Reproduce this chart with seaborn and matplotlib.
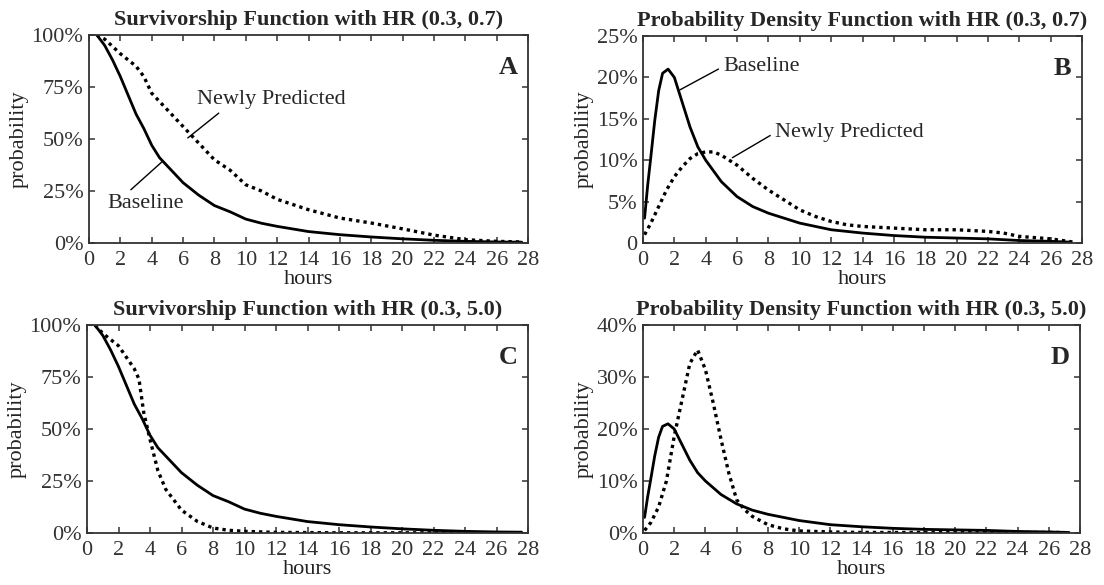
import numpy as np
import pandas as pd
import matplotlib
matplotlib.use("Agg")
import matplotlib.pyplot as plt
import seaborn as sns

# ---------------- data ----------------
# Survivorship, HR (0.3, 0.7)
surv_base_t = [0.5, 1, 1.5, 2, 2.5, 3, 3.5, 4, 4.5, 5, 6, 7, 8, 9, 10, 11, 12, 14, 16, 18, 20, 22, 24, 26, 27.6]
surv_base_p = [100, 95, 88, 80, 71, 62, 55, 47, 41, 37, 29, 23, 18, 15, 11.5, 9.5, 8, 5.5, 4, 2.9, 2, 1.3, 0.8, 0.5, 0.4]
surv_new1_t = [0.5, 1, 2, 3, 3.5, 4, 5, 6, 7, 8, 9, 10, 11, 12, 14, 16, 18, 20, 22, 24, 26, 27.6]
surv_new1_p = [100, 98, 91, 85, 80, 72, 64, 56, 48, 40, 35, 28, 25, 21, 16, 12, 9.6, 6.8, 3.8, 1.6, 0.8, 0.5]
# Survivorship, HR (0.3, 5.0)
surv_new2_t = [0.5, 1, 2, 3, 3.3, 3.6, 4, 4.5, 5, 6, 7, 8, 9, 10, 12, 14, 16, 20, 24, 27.6]
surv_new2_p = [100, 96, 90, 79, 74, 58, 45, 30, 21, 11, 5.6, 2.4, 1.3, 0.8, 0.3, 0.2, 0.1, 0.1, 0.1, 0.1]
# Density, baseline
pdf_base_t = [0.1, 0.3, 0.5, 0.75, 1, 1.25, 1.6, 2, 2.5, 3, 3.5, 4, 5, 6, 7, 8, 9, 10, 12, 14, 16, 18, 20, 22, 24, 26, 27.3]
pdf_base_p = [3, 7, 10.4, 14.8, 18.4, 20.5, 21, 20, 17, 14, 11.6, 10, 7.4, 5.6, 4.4, 3.6, 3, 2.4, 1.6, 1.2, 0.9, 0.7, 0.6, 0.5, 0.3, 0.2, 0.1]
# Density, HR (0.3, 0.7)
pdf_new1_t = [0.1, 0.5, 1, 1.5, 2, 2.5, 3, 3.5, 4, 4.5, 5, 6, 7, 8, 9, 10, 11, 12, 13, 14, 16, 18, 20, 22, 23, 24, 26, 27.5]
pdf_new1_p = [1.0, 2.4, 4.4, 6.4, 8, 9.2, 10.2, 10.8, 11, 11, 10.6, 9.4, 7.8, 6.4, 5.2, 4, 3.2, 2.6, 2.2, 2, 1.8, 1.6, 1.6, 1.4, 1.2, 0.8, 0.5, 0.1]
# Density, HR (0.3, 5.0)
pdf_new2_t = [0.1, 0.5, 1, 1.5, 2, 2.5, 3, 3.5, 4, 4.5, 5, 5.5, 6, 6.5, 7, 8, 9, 10, 12, 14, 20, 27]
pdf_new2_p = [0.5, 2, 5, 10, 18.6, 25.6, 32.6, 35.2, 31.4, 25, 18, 11.5, 6.4, 4.5, 3.2, 1.6, 0.8, 0.4, 0.2, 0.1, 0.1, 0.1]

titles = ["Survivorship Function with HR (0.3, 0.7)",
          "Probability Density Function with HR (0.3, 0.7)",
          "Survivorship Function with HR (0.3, 5.0)",
          "Probability Density Function with HR (0.3, 5.0)"]
panel_letters = ["A", "B", "C", "D"]
x_ticks = list(range(0, 29, 2))
yticks_A = [0, 25, 50, 75, 100]
ylabels_A = ["0%", "25%", "50%", "75%", "100%"]
yticks_B = [0, 5, 10, 15, 20, 25]
ylabels_B = ["0", "5%", "10%", "15%", "20%", "25%"]
yticks_D = [0, 10, 20, 30, 40]
ylabels_D = ["0%", "10%", "20%", "30%", "40%"]

# ---------------- style ----------------
sns.set_style("ticks")
plt.rcParams['font.family'] = ['Liberation Serif', 'DejaVu Serif']
plt.rcParams['axes.edgecolor'] = '#333333'
plt.rcParams['axes.linewidth'] = 1.3

fig = plt.figure(figsize=(11.04, 5.85), dpi=100)
W, H = 1104, 585
boxes = [(89, 35, 528, 243), (643, 36, 1082, 243), (87, 325, 528, 533), (643, 325, 1080, 533)]
axes = []
for (l, t, r, b) in boxes:
    axes.append(fig.add_axes([l / W, 1 - b / H, (r - l) / W, (b - t) / H]))

def series_df(t, p):
    return pd.DataFrame({"hours": t, "prob": p})

def draw(ax, base, new, yticks, ylabels, ymax, title, letter):
    sns.lineplot(data=series_df(*base), x="hours", y="prob", ax=ax, color="black",
                 linewidth=2.0, linestyle="-")
    sns.lineplot(data=series_df(*new), x="hours", y="prob", ax=ax, color="black",
                 linewidth=2.4, linestyle=(0, (1, 1.2)))
    ax.set_xlim(0, 28)
    ax.set_ylim(0, ymax)
    ax.set_xticks(x_ticks)
    ax.set_xticklabels([str(v) for v in x_ticks])
    ax.set_yticks(yticks)
    ax.set_yticklabels(ylabels)
    ax.tick_params(direction="in", top=True, right=True, length=4, width=1.1,
                   labelsize=16, colors="#333333")
    ax.tick_params(axis="x", pad=6)
    ax.tick_params(axis="y", pad=4)
    for lab in ax.get_xticklabels() + ax.get_yticklabels():
        lab.set_color("#333333")
    ax.set_xlabel("hours", fontsize=16, labelpad=0, color="#222222")
    ax.set_ylabel("probability", fontsize=16, labelpad=2, color="#222222")
    ax.set_title(title, fontsize=16, fontweight="bold", pad=7)
    ax.text(0.955, 0.845, letter, transform=ax.transAxes, ha="center", va="center",
            fontsize=19, fontweight="bold")

draw(axes[0], (surv_base_t, surv_base_p), (surv_new1_t, surv_new1_p),
     yticks_A, ylabels_A, 100, titles[0], panel_letters[0])
draw(axes[1], (pdf_base_t, pdf_base_p), (pdf_new1_t, pdf_new1_p),
     yticks_B, ylabels_B, 25, titles[1], panel_letters[1])
draw(axes[2], (surv_base_t, surv_base_p), (surv_new2_t, surv_new2_p),
     yticks_A, ylabels_A, 100, titles[2], panel_letters[2])
draw(axes[3], (pdf_base_t, pdf_base_p), (pdf_new2_t, pdf_new2_p),
     yticks_D, ylabels_D, 40, titles[3], panel_letters[3])

# annotations
def note(ax, text, xy, xytext, relpos):
    ax.annotate(text, xy=xy, xytext=xytext, ha="left", va="center", fontsize=16,
                arrowprops=dict(arrowstyle="-", color="black", lw=1.0,
                                shrinkA=1, shrinkB=0, relpos=relpos))

note(axes[0], "Newly Predicted", (6.3, 50.5), (6.9, 69), (0.18, 0.0))
note(axes[0], "Baseline", (4.65, 39), (1.15, 19), (0.25, 1.0))
note(axes[1], "Baseline", (2.36, 18.5), (5.1, 21.3), (0.0, 0.5))
note(axes[1], "Newly Predicted", (5.7, 10.3), (8.4, 13.3), (0.0, 0.5))

fig.savefig("out.png", dpi=100)
